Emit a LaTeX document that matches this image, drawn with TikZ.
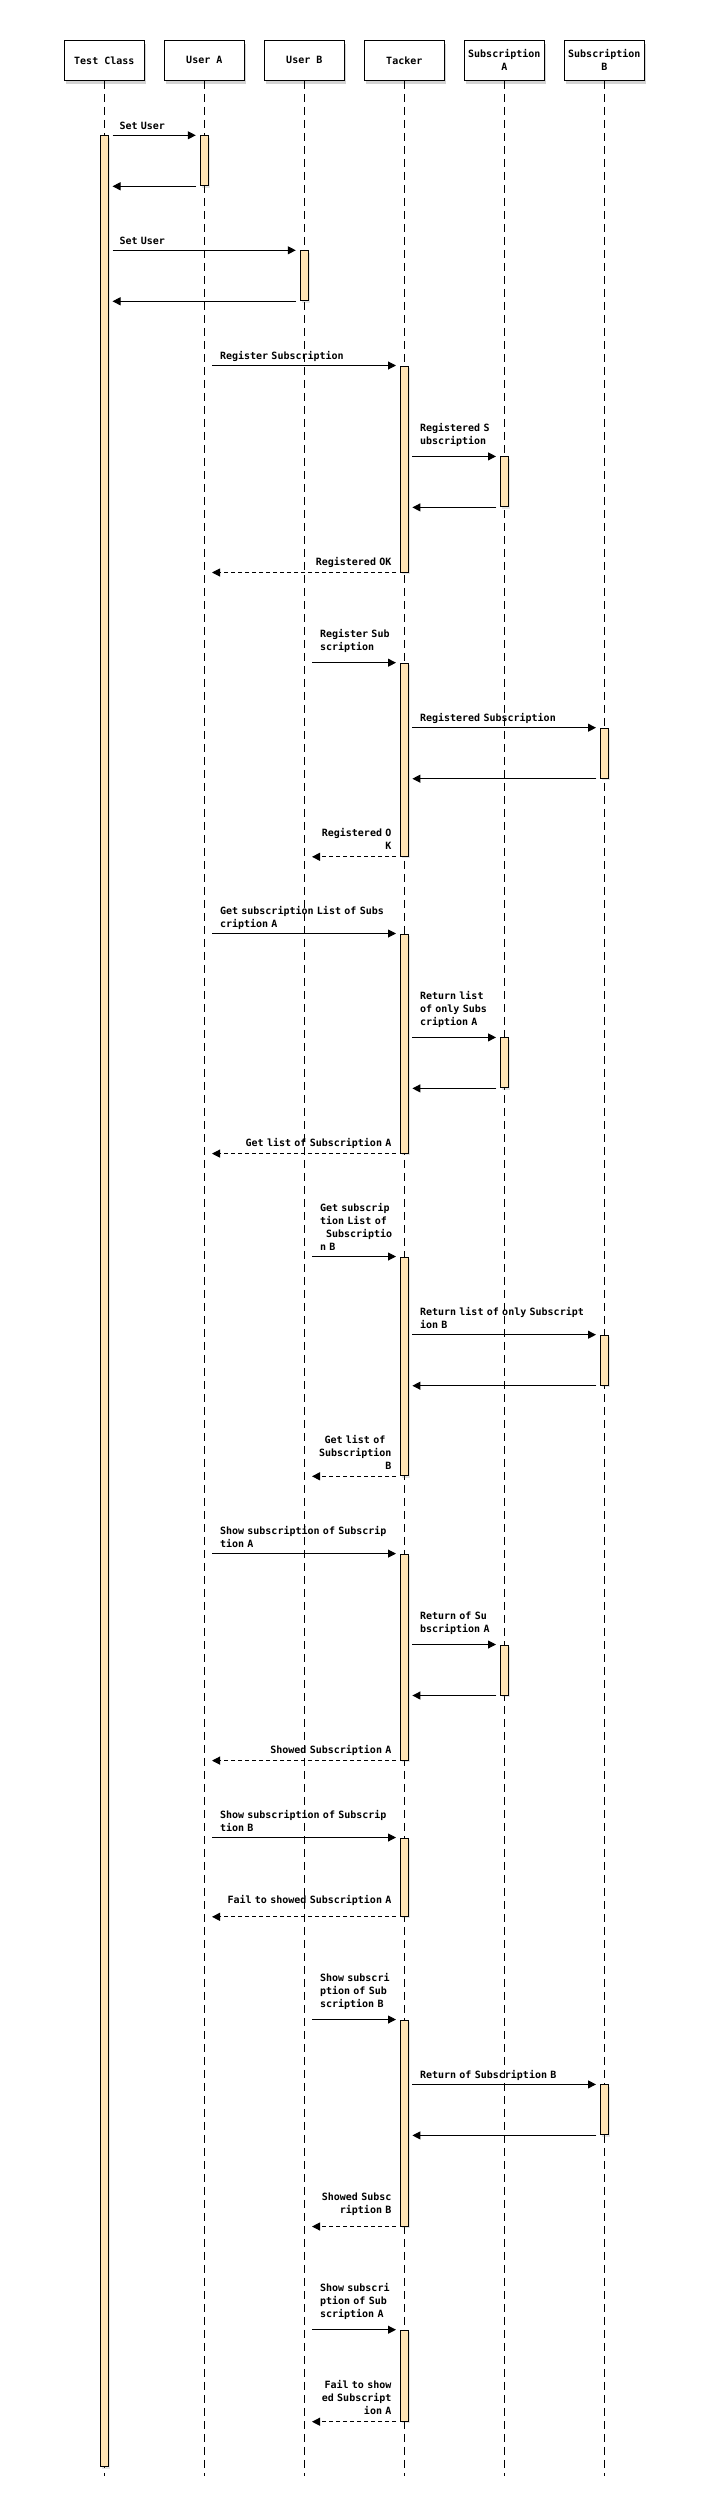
\documentclass[tikz,border=0pt]{standalone}
\usepackage{fontspec}
\usetikzlibrary{arrows.meta, shadows}
\newfontfamily\seqfont{DejaVu Sans Mono}
\definecolor{barfill}{RGB}{255,228,181}
\tikzstyle{lifebox} = [rectangle, minimum width=80pt, minimum height=40pt, inner sep=0pt, align=center, draw=black, line width=1.2pt, fill=white, font=\seqfont\bfseries\fontsize{10}{13}\selectfont, drop shadow={shadow xshift=2pt, shadow yshift=-3.5pt, opacity=0.35}]
\tikzstyle{actbar} = [rectangle, anchor=north, minimum width=8pt, inner sep=0pt, draw=black, line width=1pt, fill=barfill, drop shadow={shadow xshift=2pt, shadow yshift=-2pt, opacity=0.2}]
\tikzstyle{lifeline} = [line width=1pt, dash pattern=on 8pt off 5pt]
\tikzstyle{msg} = [line width=1pt, -{Triangle[length=8pt, width=8pt]}]
\tikzstyle{reply} = [msg, dash pattern=on 4pt off 3pt]
\tikzstyle{msgtext} = [anchor=base west, inner sep=0pt, text width=180pt, align=left, font=\seqfont\bfseries\fontsize{10}{13}\selectfont]
\tikzstyle{replytext} = [anchor=base east, inner sep=0pt, text width=180pt, align=right, font=\seqfont\bfseries\fontsize{10}{13}\selectfont]

\begin{document}
\begin{tikzpicture}[x=1pt, y=-1pt, node distance=100pt]
\useasboundingbox (0,0) rectangle (708,2494);
\node (tc) [lifebox] at (104.3,60.3) {Test Class};
\node (ua) [lifebox, right of=tc] {User A};
\node (ub) [lifebox, right of=ua] {User B};
\node (tk) [lifebox, right of=ub] {Tacker};
\node (sa) [lifebox, right of=tk] {Subscription\\A};
\node (sb) [lifebox, right of=sa] {Subscription\\B};
\coordinate (bottom) at (0,2475.7);
\foreach \p in {tc,ua,ub,tk,sa,sb}
  \draw [lifeline] (\p.south) -- (\p.south |- bottom);

\node (tcA) [actbar, minimum height=2331pt] at (104.3,135.3) {};
\node (uaA) [actbar, minimum height=50pt] at (204.3,135.3) {};
\node (ubA) [actbar, minimum height=50pt] at (304.3,250.3) {};
\node (tk1) [actbar, minimum height=206pt] at (404.3,365.5) {};
\node (sa1) [actbar, minimum height=50pt] at (504.3,456.4) {};
\node (tk2) [actbar, minimum height=193.1pt] at (404.3,662.7) {};
\node (sb1) [actbar, minimum height=50pt] at (604.3,727.7) {};
\node (tk3) [actbar, minimum height=219.1pt] at (404.3,933.5) {};
\node (sa2) [actbar, minimum height=50pt] at (504.3,1037.4) {};
\node (tk4) [actbar, minimum height=218.8pt] at (404.3,1256.5) {};
\node (sb2) [actbar, minimum height=50pt] at (604.3,1334.7) {};
\node (tk5) [actbar, minimum height=206pt] at (404.3,1553.6) {};
\node (sa3) [actbar, minimum height=50pt] at (504.3,1644.5) {};
\node (tk6) [actbar, minimum height=78.3pt] at (404.3,1837.5) {};
\node (tk7) [actbar, minimum height=206pt] at (404.3,2019.5) {};
\node (sb3) [actbar, minimum height=50pt] at (604.3,2084.4) {};
\node (tk8) [actbar, minimum height=91pt] at (404.3,2329.7) {};

% set users
\draw [msg] ([xshift=3.7pt]tcA.east |- uaA.north) -- ([xshift=-4pt]uaA.north west);
\node (setUA) [msgtext] at (119.3,129.2) {Set User};
\draw [msg] ([xshift=-3.7pt]uaA.south west) -- ([xshift=3.7pt]tcA.east |- uaA.south);
\draw [msg] ([xshift=3.7pt]tcA.east |- ubA.north) -- ([xshift=-4pt]ubA.north west);
\node (setUB) [msgtext] at (119.3,244.2) {Set User};
\draw [msg] ([xshift=-3.7pt]ubA.south west) -- ([xshift=3.7pt]tcA.east |- ubA.south);

% register
\draw [msg] ([xshift=7.7pt]ua.south |- tk1.north) -- ([xshift=-3.8pt]tk1.north west);
\node (regA) [msgtext] at (219.8,359.5) {Register Subscription};
\draw [msg] ([xshift=3.6pt]tk1.east |- sa1.north) -- ([xshift=-3.8pt]sa1.north west);
\node (regSA) [msgtext] at (419.8,431.4) {Registered S\\ubscription};
\draw [msg] ([xshift=-3.5pt]sa1.south west) -- ([xshift=3.6pt]tk1.east |- sa1.south);
\draw [reply] ([xshift=-3.8pt]tk1.south west) -- ([xshift=7.7pt]ua.south |- tk1.south);
\node (okA) [replytext] at (391.6,565.5) {Registered OK};
\draw [msg] ([xshift=7.7pt]ub.south |- tk2.north) -- ([xshift=-3.8pt]tk2.north west);
\node (regB) [msgtext] at (319.8,637.5) {Register Sub\\scription};
\draw [msg] ([xshift=3.6pt]tk2.east |- sb1.north) -- ([xshift=-3.8pt]sb1.north west);
\node (regSB) [msgtext] at (419.8,721.7) {Registered Subscription};
\draw [msg] ([xshift=-3.5pt]sb1.south west) -- ([xshift=3.6pt]tk2.east |- sb1.south);
\draw [reply] ([xshift=-3.8pt]tk2.south west) -- ([xshift=7.7pt]ub.south |- tk2.south);
\node (okB) [replytext] at (391.6,836.8) {Registered O\\K};

% lists
\draw [msg] ([xshift=7.7pt]ua.south |- tk3.north) -- ([xshift=-3.8pt]tk3.north west);
\node (getA) [msgtext] at (219.8,914.2) {Get subscription List of Subs\\cription A};
\draw [msg] ([xshift=3.6pt]tk3.east |- sa2.north) -- ([xshift=-3.8pt]sa2.north west);
\node (retA) [msgtext] at (419.8,999.2) {Return list\\of only Subs\\cription A};
\draw [msg] ([xshift=-3.5pt]sa2.south west) -- ([xshift=3.6pt]tk3.east |- sa2.south);
\draw [reply] ([xshift=-3.8pt]tk3.south west) -- ([xshift=7.7pt]ua.south |- tk3.south);
\node (listA) [replytext] at (391.6,1146.6) {Get list of Subscription A};
\draw [msg] ([xshift=7.7pt]ub.south |- tk4.north) -- ([xshift=-3.8pt]tk4.north west);
\node (getB) [msgtext] at (319.8,1211.5) {Get subscrip\\tion List of\\\hphantom{x}Subscriptio\\n B};
\draw [msg] ([xshift=3.6pt]tk4.east |- sb2.north) -- ([xshift=-3.8pt]sb2.north west);
\node (retB) [msgtext] at (419.8,1315.4) {Return list of only Subscript\\ion B};
\draw [msg] ([xshift=-3.5pt]sb2.south west) -- ([xshift=3.6pt]tk4.east |- sb2.south);
\draw [reply] ([xshift=-3.8pt]tk4.south west) -- ([xshift=7.7pt]ub.south |- tk4.south);
\node (listB) [replytext] at (391.6,1443.0) {Get list of\hphantom{x}\\Subscription\\B};

% show
\draw [msg] ([xshift=7.7pt]ua.south |- tk5.north) -- ([xshift=-3.8pt]tk5.north west);
\node (showAA) [msgtext] at (219.8,1534.2) {Show subscription of Subscrip\\tion A};
\draw [msg] ([xshift=3.6pt]tk5.east |- sa3.north) -- ([xshift=-3.8pt]sa3.north west);
\node (ofA) [msgtext] at (419.8,1619.5) {Return of Su\\bscription A};
\draw [msg] ([xshift=-3.5pt]sa3.south west) -- ([xshift=3.6pt]tk5.east |- sa3.south);
\draw [reply] ([xshift=-3.8pt]tk5.south west) -- ([xshift=7.7pt]ua.south |- tk5.south);
\node (shownAA) [replytext] at (391.6,1753.3) {Showed Subscription A};
\draw [msg] ([xshift=7.7pt]ua.south |- tk6.north) -- ([xshift=-3.8pt]tk6.north west);
\node (showAB) [msgtext] at (219.8,1818.6) {Show subscription of Subscrip\\tion B};
\draw [reply] ([xshift=-3.8pt]tk6.south west) -- ([xshift=7.7pt]ua.south |- tk6.south);
\node (failAB) [replytext] at (391.6,1903.5) {Fail to showed Subscription A};
\draw [msg] ([xshift=7.7pt]ub.south |- tk7.north) -- ([xshift=-3.8pt]tk7.north west);
\node (showBB) [msgtext] at (319.8,1981.2) {Show subscri\\ption of Sub\\scription B};
\draw [msg] ([xshift=3.6pt]tk7.east |- sb3.north) -- ([xshift=-3.8pt]sb3.north west);
\node (ofB) [msgtext] at (419.8,2078.4) {Return of Subscription B};
\draw [msg] ([xshift=-3.5pt]sb3.south west) -- ([xshift=3.6pt]tk7.east |- sb3.south);
\draw [reply] ([xshift=-3.8pt]tk7.south west) -- ([xshift=7.7pt]ub.south |- tk7.south);
\node (shownBB) [replytext] at (391.6,2200.2) {Showed Subsc\\ription B};
\draw [msg] ([xshift=7.7pt]ub.south |- tk8.north) -- ([xshift=-3.8pt]tk8.north west);
\node (showBA) [msgtext] at (319.8,2291.1) {Show subscri\\ption of Sub\\scription A};
\draw [reply] ([xshift=-3.8pt]tk8.south west) -- ([xshift=7.7pt]ub.south |- tk8.south);
\node (failBA) [replytext] at (391.6,2388.5) {Fail to show\\ed Subscript\\ion A};
\end{tikzpicture}
\end{document}
